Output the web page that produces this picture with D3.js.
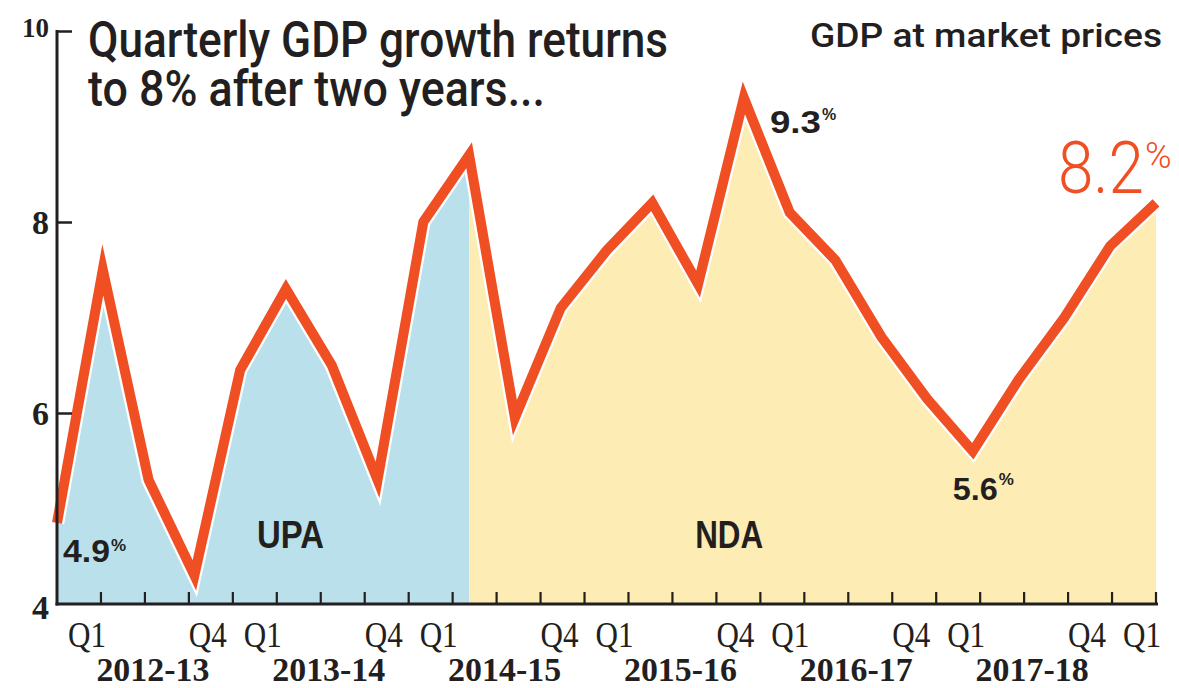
<!DOCTYPE html>
<html><head><meta charset="utf-8">
<script src="https://cdn.jsdelivr.net/npm/d3@7"></script>
<style>body{margin:0;background:#fff} svg{display:block}</style>
</head><body><svg id="c" width="1179" height="688"></svg>
<script>
// ---- data ----
const quarters = [
  "2012-13 Q1","2012-13 Q2","2012-13 Q3","2012-13 Q4",
  "2013-14 Q1","2013-14 Q2","2013-14 Q3","2013-14 Q4",
  "2014-15 Q1","2014-15 Q2","2014-15 Q3","2014-15 Q4",
  "2015-16 Q1","2015-16 Q2","2015-16 Q3","2015-16 Q4",
  "2016-17 Q1","2016-17 Q2","2016-17 Q3","2016-17 Q4",
  "2017-18 Q1","2017-18 Q2","2017-18 Q3","2017-18 Q4",
  "2018-19 Q1"
];
const growth = [4.85, 7.5, 5.3, 4.3, 6.45, 7.3, 6.5, 5.3, 8.0, 8.7, 5.95, 7.1, 7.7, 8.2, 7.35, 9.3, 8.1, 7.6, 6.8, 6.15, 5.6, 6.35, 7.0, 7.75, 8.2];
const fiscalYears = ["2012-13","2013-14","2014-15","2015-16","2016-17","2017-18"];
const quarterTickLabels = ["Q1","Q4"];
const yTicks = [4, 6, 8, 10];
const governments = [
  {name: "UPA", from: "2012-13 Q1", to: "2014-15 Q2"},
  {name: "NDA", from: "2014-15 Q2", to: "2018-19 Q1"}
];
const annotations = [
  {q: "2012-13 Q1", label: "4.9"},
  {q: "2015-16 Q4", label: "9.3"},
  {q: "2017-18 Q1", label: "5.6"},
  {q: "2018-19 Q1", label: "8.2"}
];
const titleLines = ["Quarterly GDP growth returns", "to 8% after two years..."];
const subtitle = "GDP at market prices";

// ---- drawing ----
const svg = d3.select("#c");
const INK = "#231f20", RED = "#f04e23";
const fills = {UPA: "#bae1eb", NDA: "#fdecb4"};
const labelPos = {UPA: {dx: 200, dy: 548}, NDA: {dx: 226, dy: 548}};

const x = d3.scalePoint().domain(quarters).range([57, 1156]);
const xb = d3.scaleBand().domain(quarters).range([57, 1156]);
const y = d3.scaleLinear().domain([4, 10]).range([604, 31]);

const data = quarters.map((q, i) => ({q, v: growth[i]}));
const area = d3.area().x(d => x(d.q)).y0(y(4)).y1(d => y(d.v));
const line = d3.line().x(d => x(d.q)).y(d => y(d.v));

governments.forEach(g => {
  const a = quarters.indexOf(g.from), b = quarters.indexOf(g.to);
  svg.append("path").datum(data.slice(a, b + 1))
    .attr("d", area).attr("fill", fills[g.name]);
});

// gov labels
const govText = {UPA: {x0: "2012-13 Q1", w: 67}, NDA: {x0: "2014-15 Q2", w: 68}};
governments.forEach(g => {
  const p = labelPos[g.name];
  svg.append("text").text(g.name)
    .attr("x", x(govText[g.name].x0) + p.dx).attr("y", p.dy)
    .attr("textLength", govText[g.name].w).attr("lengthAdjust", "spacingAndGlyphs")
    .attr("font-family", "Liberation Sans, Arial, sans-serif").attr("font-weight", "bold")
    .attr("font-size", 38).attr("fill", INK);
});

// line with white halo
svg.append("path").datum(data).attr("d", line).attr("fill", "none")
  .attr("stroke", "#fff").attr("stroke-width", 14.5).attr("stroke-linejoin", "miter").attr("stroke-miterlimit", 6);
svg.append("path").datum(data).attr("d", line).attr("fill", "none")
  .attr("stroke", RED).attr("stroke-width", 10).attr("stroke-linejoin", "miter").attr("stroke-miterlimit", 6);

// y axis
const yAxis = d3.axisLeft(y).tickValues(yTicks).tickFormat(d3.format("d")).tickSize(-15).tickPadding(8);
const yg = svg.append("g").attr("transform", "translate(57,0)").call(yAxis);
yg.select(".domain").remove();
yg.selectAll(".tick line").attr("stroke", INK).attr("stroke-width", 2.5)
  .attr("opacity", d => d === 4 ? 0 : 1);
yg.selectAll(".tick text")
  .attr("font-family", "Liberation Serif, serif").attr("font-weight", "bold")
  .attr("font-size", d => d === 10 ? 27 : 34).attr("fill", INK)
  .attr("dy", d => d === 10 ? "0.2em" : (d === 4 ? "0.42em" : "0.34em"));
svg.append("line").attr("x1", 57).attr("x2", 57).attr("y1", y(10) - 1).attr("y2", y(4) + 1.5)
  .attr("stroke", INK).attr("stroke-width", 3);

// x axis
svg.append("line").attr("x1", 55.5).attr("x2", xb.range()[1] + 2).attr("y1", y(4)).attr("y2", y(4))
  .attr("stroke", INK).attr("stroke-width", 3);
svg.append("g").selectAll("line").data(quarters).join("line")
  .attr("x1", d => xb(d) + xb.bandwidth()).attr("x2", d => xb(d) + xb.bandwidth())
  .attr("y1", y(4)).attr("y2", y(4) - 12)
  .attr("stroke", INK).attr("stroke-width", 2.2);

// quarter labels
const qLab = quarters.filter(q => quarterTickLabels.includes(q.split(" ")[1]));
svg.append("g").selectAll("text").data(qLab).join("text")
  .text(d => d.split(" ")[1])
  .attr("x", d => xb(d) + xb.bandwidth() / 2 + (d.endsWith("Q1") ? 8 : -3))
  .attr("y", 647).attr("text-anchor", "middle")
  .attr("textLength", 38).attr("lengthAdjust", "spacingAndGlyphs")
  .attr("font-family", "Liberation Serif, serif").attr("font-size", 35).attr("fill", INK);

// fiscal year labels
svg.append("g").selectAll("text").data(fiscalYears).join("text")
  .text(d => d)
  .attr("x", d => {
    const qs = quarters.filter(q => q.startsWith(d));
    return (xb(qs[0]) + xb(qs[qs.length - 1]) + xb.bandwidth()) / 2 + 8;
  })
  .attr("y", 681).attr("text-anchor", "middle")
  .attr("textLength", 113).attr("lengthAdjust", "spacingAndGlyphs")
  .attr("font-family", "Liberation Serif, serif").attr("font-weight", "bold")
  .attr("font-size", 34).attr("fill", INK);

// titles
titleLines.forEach((t, i) => {
  svg.append("text").text(t).attr("x", 88).attr("y", 57 + i * 49)
    .attr("textLength", i === 0 ? 580 : 457).attr("lengthAdjust", "spacingAndGlyphs")
    .attr("font-family", "Roboto, sans-serif").attr("font-weight", 500)
    .attr("font-size", 50).attr("fill", INK);
});
svg.append("text").text(subtitle).attr("x", 810).attr("y", 47)
  .attr("textLength", 352).attr("lengthAdjust", "spacingAndGlyphs")
  .attr("font-family", "Roboto, sans-serif").attr("font-weight", 500)
  .attr("font-size", 34).attr("fill", INK);

// annotations
const annStyle = {
  "4.9": {dx: 6, dy: 39, w: 47, fs: 31, pdy: -11, pfs: 17, col: INK, big: false},
  "9.3": {dx: 26, dy: 35, w: 51, fs: 31, pdy: -13, pfs: 16, col: INK, big: false},
  "5.6": {dx: -20, dy: 49, w: 45, fs: 31, pdy: -15, pfs: 17, col: INK, big: false},
  "8.2": {dx: -98, dy: -10, w: 86, fs: 72, pdy: -25, pfs: 36, col: RED, big: true}
};
annotations.forEach(a => {
  const s = annStyle[a.label];
  const v = growth[quarters.indexOf(a.q)];
  const tx = x(a.q) + s.dx, ty = y(v) + s.dy;
  svg.append("text").text(a.label).attr("x", tx).attr("y", ty)
    .attr("textLength", s.w).attr("lengthAdjust", "spacingAndGlyphs")
    .attr("font-family", s.big ? "Roboto, sans-serif" : "Liberation Sans, Arial, sans-serif")
    .attr("font-weight", s.big ? 300 : "bold").attr("font-size", s.fs).attr("fill", s.col);
  svg.append("text").text("%").attr("x", tx + s.w + 1).attr("y", ty + s.pdy)
    .attr("font-family", s.big ? "Roboto, sans-serif" : "Liberation Sans, Arial, sans-serif")
    .attr("font-weight", s.big ? 300 : "bold").attr("font-size", s.pfs).attr("fill", s.col);
});
</script></body></html>
